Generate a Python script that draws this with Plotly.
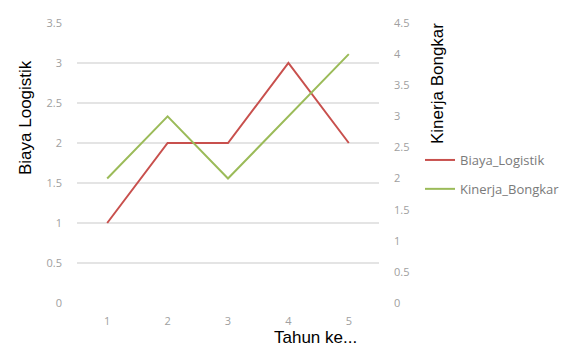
import plotly.graph_objects as go

# Yearly data
tahun = [1, 2, 3, 4, 5]
biaya_logistik = [1, 2, 2, 3, 2]
kinerja_bongkar = [2, 3, 2, 3, 4]

left_ticks = [0, 0.5, 1, 1.5, 2, 2.5, 3, 3.5]
right_ticks = [0, 0.5, 1, 1.5, 2, 2.5, 3, 3.5, 4, 4.5]

RED = "#C8504D"
GREEN = "#9BBB59"
TICK_FONT = dict(family="Open Sans, Liberation Sans, sans-serif", size=11, color="#A0A0A0")
TITLE_FONT = dict(family="Liberation Sans, Arial, sans-serif", size=17, color="black")

fig = go.Figure()
fig.add_trace(go.Scatter(
    x=tahun, y=biaya_logistik, name="Biaya_Logistik", mode="lines",
    line=dict(color=RED, width=2), legendgroup="a", yaxis="y"))
fig.add_trace(go.Scatter(
    x=tahun, y=kinerja_bongkar, name="Kinerja_Bongkar", mode="lines",
    line=dict(color=GREEN, width=2), legendgroup="b", yaxis="y2"))

plot_l, plot_r, plot_t, plot_b = 77, 379, 23, 303
W, H = 577, 347
plot_w, plot_h = plot_r - plot_l, plot_b - plot_t


def px_x(x):
    return (x - plot_l) / plot_w


def px_y(y):
    return 1 - (y - plot_t) / plot_h


fig.update_layout(
    width=W, height=H,
    margin=dict(l=plot_l, r=W - plot_r, t=plot_t, b=H - plot_b),
    paper_bgcolor="white", plot_bgcolor="white",
    showlegend=True,
    legend=dict(
        x=px_x(420), y=px_y(145), xanchor="left", yanchor="top",
        font=dict(family="Open Sans, Liberation Sans, sans-serif", size=13, color="#7A7A7A"),
        tracegroupgap=9, itemwidth=30, bgcolor="rgba(0,0,0,0)",
    ),
    xaxis=dict(
        range=[0.5, 5.5], tickvals=tahun, ticktext=[str(t) for t in tahun],
        showgrid=False, zeroline=False, showline=False, ticks="",
        ticklabelstandoff=10, tickfont=TICK_FONT,
    ),
    yaxis=dict(
        range=[0, 3.5], tickvals=left_ticks, ticktext=[f"{t:g}" for t in left_ticks],
        showgrid=True, gridcolor="#E4E4E4", gridwidth=1.5, zeroline=False,
        showline=False, ticks="", ticklabelstandoff=14, tickfont=TICK_FONT,
    ),
    yaxis2=dict(
        range=[0, 4.5], tickvals=right_ticks, ticktext=[f"{t:g}" for t in right_ticks],
        overlaying="y", side="right", showgrid=False, zeroline=False,
        showline=False, ticks="", ticklabelstandoff=14, tickfont=TICK_FONT,
    ),
    annotations=[
        dict(text="Biaya Loogistik", x=px_x(25), y=px_y(118), xref="paper", yref="paper",
             showarrow=False, textangle=-90, xanchor="center", yanchor="middle",
             font=TITLE_FONT),
        dict(text="Kinerja Bongkar", x=px_x(437), y=px_y(84), xref="paper", yref="paper",
             showarrow=False, textangle=-90, xanchor="center", yanchor="middle",
             font=TITLE_FONT),
        dict(text="Tahun ke...", x=px_x(315), y=px_y(337), xref="paper", yref="paper",
             showarrow=False, xanchor="center", yanchor="middle",
             font=TITLE_FONT),
    ],
)

fig.write_html("out.html")
